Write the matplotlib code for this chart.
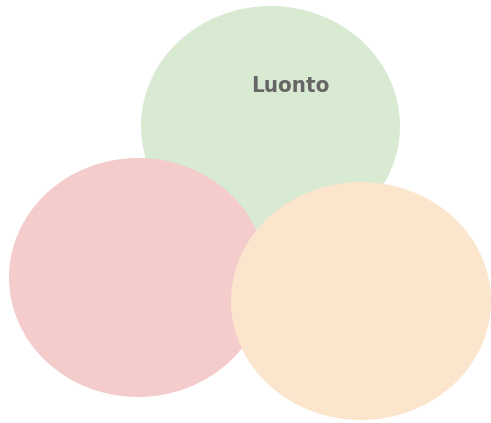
import matplotlib
matplotlib.use("Agg")
import matplotlib.pyplot as plt
from matplotlib.patches import Ellipse

# Data (bubble centres and radii in chart units)
labels = ["Luonto", "", ""]
center_x = [270.5, 138, 361]
center_y = [126, 277.5, 301]
radius_x = [129.5, 129, 130]
radius_y = [120, 119.5, 119]
colors = ["#d9ead3", "#f4cccc", "#fce5cd"]

fig = plt.figure(figsize=(4.91, 4.23), dpi=100)
ax = fig.add_axes([0, 0, 1, 1])
ax.set_xlim(0, 491)
ax.set_ylim(423, 0)
ax.axis("off")

for cx, cy, rx, ry, c in zip(center_x, center_y, radius_x, radius_y, colors):
    ax.add_patch(Ellipse((cx, cy), 2 * rx, 2 * ry, facecolor=c, edgecolor="none"))

ax.text(290, 86.5, labels[0], ha="center", va="center", color="#666666",
        fontsize=16, fontweight="bold", fontstretch="condensed",
        family=["DejaVu Sans"])

fig.savefig("out.png", dpi=100)
